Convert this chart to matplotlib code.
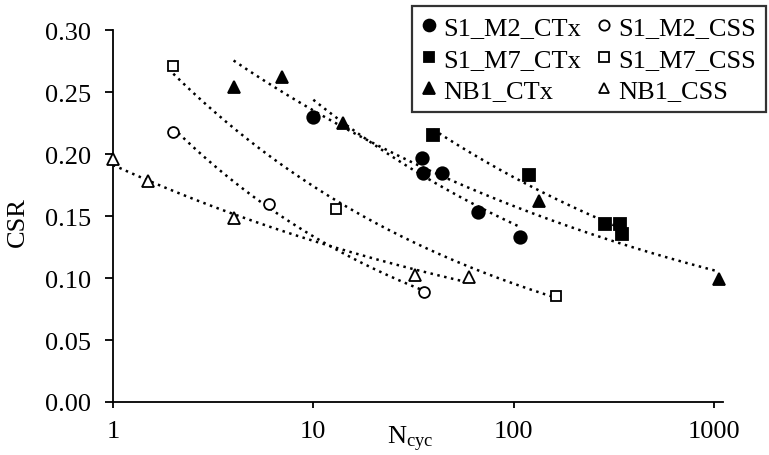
import numpy as np
import matplotlib
matplotlib.use("Agg")
import matplotlib.pyplot as plt
from matplotlib.lines import Line2D

plt.rcParams['font.family'] = ['Liberation Serif', 'DejaVu Serif']
plt.rcParams['mathtext.fontset'] = 'custom'
plt.rcParams['mathtext.rm'] = 'Liberation Serif'
plt.rcParams['mathtext.it'] = 'Liberation Serif:italic'

# ---- data ----
m2_ctx_n = [10, 34.8, 35.2, 43.7, 66.6, 107.6]
m2_ctx_csr = [0.230, 0.1965, 0.185, 0.185, 0.153, 0.133]
m2_css_n = [2, 6, 35.7]
m2_css_csr = [0.218, 0.160, 0.089]
m7_ctx_n = [39.7, 119.8, 286, 340, 346]
m7_ctx_csr = [0.215, 0.183, 0.1435, 0.1435, 0.1355]
m7_css_n = [2, 13, 163]
m7_css_csr = [0.271, 0.156, 0.0855]
nb1_ctx_n = [4, 7, 14, 134, 1060]
nb1_ctx_csr = [0.254, 0.262, 0.225, 0.162, 0.0995]
nb1_css_n = [1, 1.5, 4, 32.2, 60]
nb1_css_csr = [0.196, 0.178, 0.148, 0.1025, 0.1005]

x_ticks = [1, 10, 100, 1000]
x_tick_labels = ['1', '10', '100', '1000']
y_ticks = [0.00, 0.05, 0.10, 0.15, 0.20, 0.25, 0.30]

series = [
    ('S1_M2_CTx', m2_ctx_n, m2_ctx_csr, 'o', 'k', 9.0),
    ('S1_M7_CTx', m7_ctx_n, m7_ctx_csr, 's', 'k', 8.3),
    ('NB1_CTx', nb1_ctx_n, nb1_ctx_csr, '^', 'k', 8.8),
    ('S1_M2_CSS', m2_css_n, m2_css_csr, 'o', 'white', 7.8),
    ('S1_M7_CSS', m7_css_n, m7_css_csr, 's', 'white', 7.8),
    ('NB1_CSS', nb1_css_n, nb1_css_csr, '^', 'white', 8.2),
]

fig = plt.figure(figsize=(7.69, 4.56), dpi=100)
ax = fig.add_axes([113/769, 1-403/456, 610/769, 372/456])

handles = []
for name, n, c, mk, fc, ms in series:
    n = np.asarray(n, float)
    c = np.asarray(c, float)
    # power-law trendline
    b, a = np.polyfit(np.log(n), np.log(c), 1)
    xx = np.logspace(np.log10(n.min()), np.log10(n.max()), 200)
    ax.plot(xx, np.exp(a) * xx ** b, color='k', lw=1.8,
            linestyle=(0, (1, 1.8)), dash_capstyle='butt', zorder=2)
    ax.plot(n, c, linestyle='none', marker=mk, markersize=ms,
            markerfacecolor=fc, markeredgecolor='k', markeredgewidth=1.3,
            zorder=3, clip_on=False)
    handles.append(Line2D([], [], linestyle='none', marker=mk,
                          markersize=ms * 0.95, markerfacecolor=fc,
                          markeredgecolor='k', markeredgewidth=1.3,
                          label=name))

ax.set_xscale('log')
ax.set_xlim(1, 1110)
ax.set_ylim(0, 0.30)
ax.set_xticks(x_ticks)
ax.set_xticklabels(x_tick_labels)
ax.xaxis.set_minor_locator(matplotlib.ticker.NullLocator())
ax.set_yticks(y_ticks)
ax.set_yticklabels(['%.2f' % v for v in y_ticks])
for s in ['top', 'right']:
    ax.spines[s].set_visible(False)
for s in ['left', 'bottom']:
    ax.spines[s].set_linewidth(1.3)
ax.tick_params(axis='both', labelsize=19, width=1.3, direction='out',
               colors='k')
ax.tick_params(axis='x', length=4.5, pad=8.5)
ax.tick_params(axis='y', length=5.8, pad=10)

fig.text(18/769, 1-222/456, 'CSR', fontsize=19, rotation=90,
         ha='center', va='center')
fig.text(410/769, 1-444/456, r'N$_{\mathrm{cyc}}$', fontsize=19,
         ha='center', va='baseline')

leg = fig.legend(handles=handles, ncol=2, loc='upper left',
                 bbox_to_anchor=(412/769, 1-7/456, 354/769, 0.0),
                 mode='expand', fontsize=19, frameon=True, fancybox=False,
                 edgecolor='k', handlelength=0.5, handletextpad=0.3,
                 columnspacing=0.4, labelspacing=0.3, borderpad=0.38,
                 borderaxespad=0)
leg.get_frame().set_linewidth(1.6)

fig.savefig('out.png', dpi=100)
